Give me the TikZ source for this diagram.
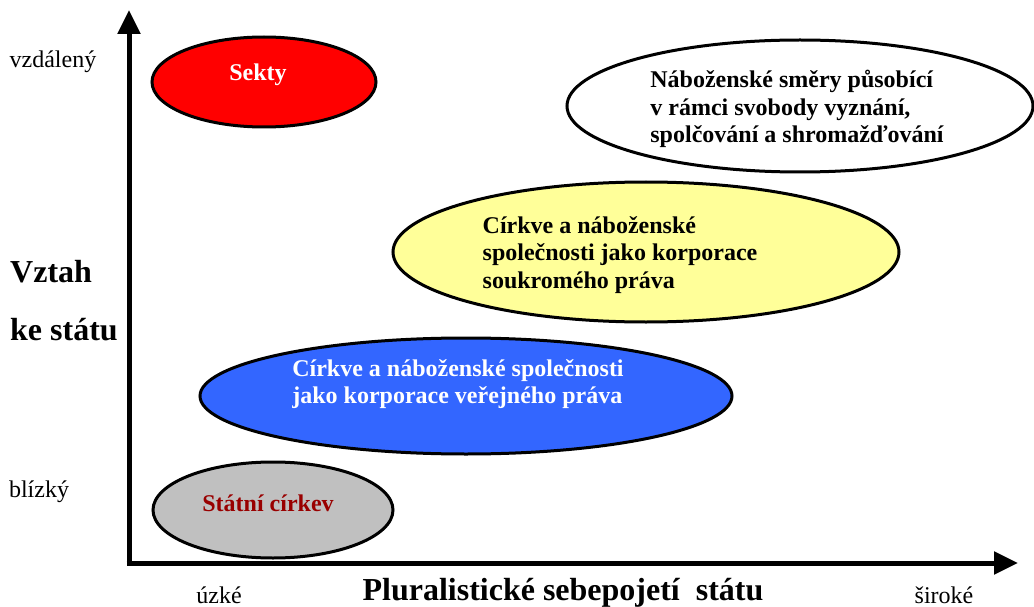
\documentclass[tikz,border=0pt]{standalone}
\usepackage{fontspec}
\setmainfont{Liberation Serif}
\usetikzlibrary{shapes.geometric,arrows.meta}
\definecolor{sektred}{RGB}{255,0,0}
\definecolor{yel}{RGB}{255,255,153}
\definecolor{blu}{RGB}{51,102,255}
\definecolor{gry}{RGB}{192,192,192}
\definecolor{dred}{RGB}{153,0,0}
\tikzset{
  ell/.style={ellipse, draw=black, line width=3pt, inner sep=0pt},
  etext/.style={font=\bfseries\fontsize{24}{27.5}\selectfont, align=left, inner sep=0pt},
  axis/.style={line width=5pt, -{Triangle[width=22pt,length=24pt]}},
  small/.style={font=\fontsize{24}{28}\selectfont, inner sep=0pt},
  big/.style={font=\bfseries\fontsize{32}{36}\selectfont, inner sep=0pt},
}
\begin{document}
\begin{tikzpicture}[x=1pt,y=-1pt]
\useasboundingbox (0,0) rectangle (1034,607);
% axes
\coordinate (o) at (129,563);
\coordinate (ytip) at (129,10);
\coordinate (xtip) at (1018,563);
\draw[axis] ([yshift=-2.5pt]o) -- (ytip);
\draw[axis] ([xshift=-2.5pt]o) -- (xtip);
% ellipses
\node[ell, fill=sektred, minimum width=224pt, minimum height=90pt] (sekty) at (264,82) {};
\node[etext, text=white] (tsekty) at (258,75) {Sekty};
\node[ell, fill=white, minimum width=466pt, minimum height=132pt] (smery) at (800,106) {};
\node[etext] (tsmery) at (797,109) {Náboženské směry působící\\v rámci svobody vyznání,\\spolčování a shromažďování};
\node[ell, fill=yel, minimum width=506pt, minimum height=140pt] (soukr) at (646,252) {};
\node[etext] (tsoukr) at (620,255) {Církve a náboženské\\společnosti jako korporace\\soukromého práva};
\node[ell, fill=blu, minimum width=532pt, minimum height=116pt] (verej) at (466,396) {};
\node[etext, text=white] (tverej) at (458,384) {Církve a náboženské společnosti\\jako korporace veřejného práva};
\node[ell, fill=gry, minimum width=240pt, minimum height=96pt] (statni) at (273,510) {};
\node[etext, text=dred] (tstatni) at (268,503) {Státní církev};
% labels
\node[small] (vzd) at (53,62) {vzdálený};
\node[small] (bli) at (39,492) {blízký};
\node[big, anchor=west] (vztah) at (10,272) {Vztah};
\node[big, anchor=west] (ke) at (10,330) {ke státu};
\node[small] (uzke) at (219,595) {úzké};
\node[small] (siroke) at (944,595) {široké};
\node[big] (plur) at (563,593) {Pluralistické sebepojetí\ \ státu};
\end{tikzpicture}
\end{document}
